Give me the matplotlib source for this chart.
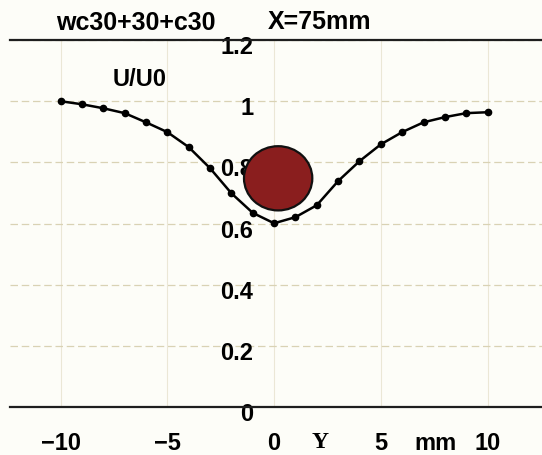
import matplotlib
matplotlib.use("Agg")
import matplotlib.pyplot as plt
import matplotlib.transforms as mtransforms
from matplotlib.patches import Ellipse

# Velocity ratio profile across the section at X = 75 mm
y_mm = [-10, -9, -8, -7, -6, -5, -4, -3, -2, -1, 0,
        1, 2, 3, 4, 5, 6, 7, 8, 9, 10]
u_ratio = [1.00, 0.990, 0.977, 0.961, 0.931, 0.899, 0.850, 0.781, 0.699, 0.635, 0.601,
           0.621, 0.660, 0.739, 0.804, 0.859, 0.899, 0.931, 0.948, 0.961, 0.964]

x_ticks = [-10, -5, 0, 5, 10]
x_tick_labels = ["\u221210", "\u22125", "0", "5", "10"]
x_unit_pos = [2.15, 7.55]
x_unit_labels = ["Y", "mm"]
y_ticks = [0, 0.2, 0.4, 0.6, 0.8, 1.0, 1.2]
y_tick_labels = ["0", "0.2", "0.4", "0.6", "0.8", "1", "1.2"]

# cylinder cross-section marker (centre x, centre y, width in mm, height in U/U0)
body_centre = (0.19, 0.748)
body_size = (3.2, 0.21)

plt.rcParams["font.family"] = ["Liberation Sans", "DejaVu Sans"]
plt.rcParams["font.weight"] = "bold"

fig = plt.figure(figsize=(5.42, 4.56), dpi=100)
fig.patch.set_facecolor("#fdfdf8")
ax = fig.add_axes([0.0185, 0.105, 0.9815, 0.805])
ax.set_facecolor("#fdfdf8")

ax.set_xlim(-12.37, 12.55)
ax.set_ylim(0, 1.2)

for side in ("left", "right"):
    ax.spines[side].set_visible(False)
ax.spines["left"].set_position(("data", 0))
for side in ("top", "bottom"):
    ax.spines[side].set_color("#1e1e1e")
    ax.spines[side].set_linewidth(1.6)

ax.set_xticks(x_ticks)
ax.set_xticklabels(x_tick_labels)
ax.set_xticks(x_unit_pos, minor=True)
ax.set_xticklabels(x_unit_labels, minor=True)
ax.tick_params(axis="x", which="both", length=0, pad=17, labelsize=17)
for lbl in ax.get_xticklabels(minor=True):
    if lbl.get_text() == "Y":
        lbl.set_fontfamily("Liberation Serif")
        lbl.set_fontweight("bold")

ax.set_yticks(y_ticks)
ax.set_yticklabels(y_tick_labels)
ax.tick_params(axis="y", length=0, pad=15, labelsize=17)
shift = mtransforms.ScaledTranslation(0, -4 / 100, fig.dpi_scale_trans)
for lbl in ax.get_yticklabels():
    lbl.set_transform(lbl.get_transform() + shift)

ax.grid(axis="y", color="#d9d2b4", linewidth=0.9, linestyle=(0, (6, 3)))
ax.grid(axis="x", color="#ebe7d6", linewidth=0.8)
ax.set_axisbelow(True)

ax.plot(y_mm, u_ratio, color="black", linewidth=1.8, marker="o",
        markersize=4.5, zorder=3)

ax.add_patch(Ellipse(body_centre, body_size[0], body_size[1],
                     facecolor="#8a1e1e", edgecolor="#111111",
                     linewidth=1.6, zorder=4))


def px(x, y):
    # figure fraction from pixel coordinates measured from the top-left corner
    return x / 542, 1 - y / 456


fig.text(*px(140, 80), "U/U0", fontsize=17, fontweight="bold",
         ha="center", va="center")
fig.text(*px(136, 23), "wc30+30+c30", fontsize=18, fontweight="bold",
         ha="center", va="center")
fig.text(*px(320, 22), "X=75mm", fontsize=18, fontweight="bold",
         ha="center", va="center")

fig.savefig("out.png", dpi=100, facecolor=fig.get_facecolor())
